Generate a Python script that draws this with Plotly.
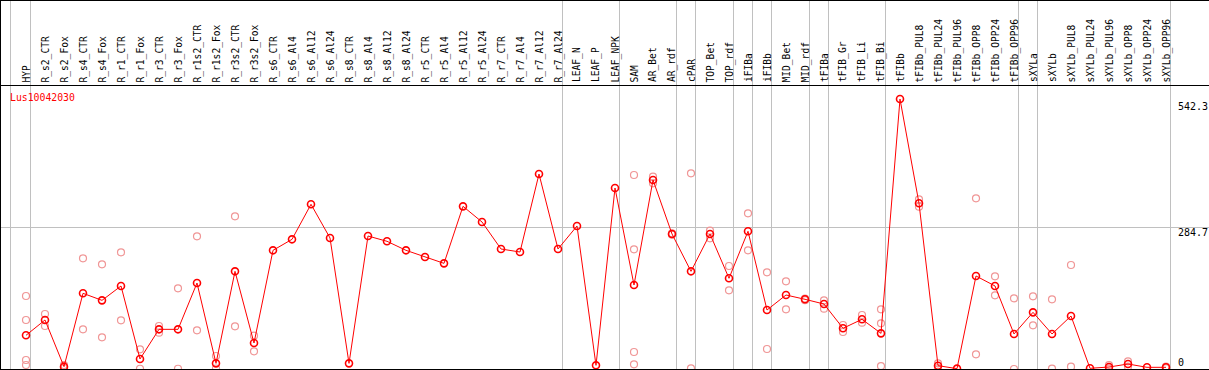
import plotly.graph_objects as go
import math

categories = ["HYP", "R_s2_CTR", "R_s2_Fox", "R_s4_CTR", "R_s4_Fox", "R_r1_CTR", "R_r1_Fox",
              "R_r3_CTR", "R_r3_Fox", "R_r1s2_CTR", "R_r1s2_Fox", "R_r3s2_CTR", "R_r3s2_Fox",
              "R_s6_CTR", "R_s6_Al4", "R_s6_Al12", "R_s6_Al24", "R_s8_CTR", "R_s8_Al4", "R_s8_Al12",
              "R_s8_Al24", "R_r5_CTR", "R_r5_Al4", "R_r5_Al12", "R_r5_Al24", "R_r7_CTR", "R_r7_Al4",
              "R_r7_Al12", "R_r7_Al24", "LEAF_N", "LEAF_P", "LEAF_NPK", "SAM", "AR_Bet", "AR_rdf",
              "cPAR", "TOP_Bet", "TOP_rdf", "iFIBa", "iFIBb", "MID_Bet", "MID_rdf", "tFIBa",
              "tFIB_Gr", "tFIB_Li", "tFIB_Bi", "tFIBb", "tFIBb_PUL8", "tFIBb_PUL24", "tFIBb_PUL96",
              "tFIBb_OPP8", "tFIBb_OPP24", "tFIBb_OPP96", "sXYLa", "sXYLb", "sXYLb_PUL8",
              "sXYLb_PUL24", "sXYLb_PUL96", "sXYLb_OPP8", "sXYLb_OPP24", "sXYLb_OPP96"]

mean_values = [68, 99, 4.7, 152.8, 138.6, 167.6, 20.2, 80.1, 80.1, 173.6, 11.4, 197.2, 52.5,
               239.6, 261.8, 332.5, 264.5, 11.4, 268.5, 257.8, 239.6, 226.1, 213.3, 328.4, 296.8,
               242.3, 236.2, 393.7, 242.3, 288.7, 7.4, 365.4, 169.6, 381.6, 272.6, 197.2, 272.6,
               183.1, 278, 119.1, 149.4, 140.7, 131.2, 82.2, 100.3, 72, 545, 334.5, 6.7, 0.7,
               187.8, 167.6, 70.7, 114.4, 70.7, 107, 1.4, 4, 10.1, 3.4, 3.4]

rep_categories = ["HYP", "HYP", "HYP", "HYP", "R_s2_CTR", "R_s2_CTR", "R_s2_Fox", "R_s2_Fox",
                  "R_s4_CTR", "R_s4_CTR", "R_s4_Fox", "R_s4_Fox", "R_r1_CTR", "R_r1_CTR",
                  "R_r1_Fox", "R_r1_Fox", "R_r3_CTR", "R_r3_CTR", "R_r3_Fox", "R_r3_Fox",
                  "R_r1s2_CTR", "R_r1s2_CTR", "R_r1s2_Fox", "R_r1s2_Fox", "R_r3s2_CTR", "R_r3s2_CTR",
                  "R_r3s2_Fox", "R_r3s2_Fox", "SAM", "SAM", "SAM", "SAM", "AR_Bet", "AR_Bet",
                  "AR_rdf", "AR_rdf", "cPAR", "cPAR", "TOP_Bet", "TOP_Bet", "TOP_rdf", "TOP_rdf",
                  "iFIBa", "iFIBa", "iFIBb", "iFIBb", "MID_Bet", "MID_Bet", "MID_rdf", "MID_rdf",
                  "tFIBa", "tFIBa", "tFIB_Gr", "tFIB_Gr", "tFIB_Li", "tFIB_Li", "tFIB_Bi", "tFIB_Bi",
                  "tFIB_Bi", "tFIBb_PUL8", "tFIBb_PUL8", "tFIBb_PUL24", "tFIBb_PUL24",
                  "tFIBb_OPP8", "tFIBb_OPP8", "tFIBb_OPP24", "tFIBb_OPP24", "tFIBb_OPP96",
                  "tFIBb_OPP96", "sXYLa", "sXYLa", "sXYLb", "sXYLb", "sXYLb_PUL8", "sXYLb_PUL8",
                  "sXYLb_PUL96", "sXYLb_PUL96", "sXYLb_OPP8", "sXYLb_OPP8", "sXYLb_OPP96",
                  "sXYLb_OPP96"]
rep_values = [147.4, 98.9, 18.2, 8.1, 111, 86.8, 8, 1.5,
              223.5, 80.1, 211.3, 63.9, 235.6, 98.3,
              39.7, 0.5, 86.8, 73.3, 162.9, 0.5,
              267.9, 78.1, 26.2, 1, 308.3, 86.2,
              67.3, 35.7, 391.7, 241.6, 34.3, 9.4, 388.3, 374.9,
              274, 271, 395, 1.3, 279.3, 263.8, 208, 158.9,
              314.3, 239.6, 195.2, 40.4, 177, 120.5, 142, 139,
              138.6, 121.8, 88.8, 74.7, 109, 93.5, 120.5, 92.2,
              6, 342.6, 327.7, 11.4, 1.6,
              344.6, 29.6, 187.1, 148.7, 142.7,
              0, 146.7, 88.2, 140.7, 0.7, 210, 4.7,
              8, 0.7, 15.5, 4.7, 5,
              1.5]

y_tick_values = [542.3, 284.7, 0]
y_tick_labels = ["542.3", "284.7", "0"]
group_ends = ["HYP", "R_r7_Al24", "LEAF_NPK", "AR_rdf", "cPAR", "TOP_rdf", "iFIBa", "iFIBb",
              "MID_rdf", "tFIBa", "tFIB_Bi", "tFIBb_OPP96", "sXYLa", "sXYLb_OPP96"]
gene_name = "Lus10042030"

W, H = 1209, 370
X0, DX = 26.0, 19.0          # pixel of first category, pixel step
Y0, SLOPE = 369.0, 0.4953    # pixel of value 0, pixels per unit

idx = {c: i for i, c in enumerate(categories)}
xr = [(0 - X0) / DX, (W - X0) / DX]
yr = [(Y0 - H) / SLOPE, Y0 / SLOPE]

fig = go.Figure()
fig.add_trace(go.Scatter(
    x=[idx[c] for c in rep_categories], y=rep_values, mode="markers",
    marker=dict(symbol="circle-open", size=7, color="rgb(240,150,150)",
                line=dict(width=1.2, color="rgb(240,150,150)")),
    showlegend=False, hoverinfo="skip", cliponaxis=True))
fig.add_trace(go.Scatter(
    x=list(range(len(categories))), y=mean_values, mode="lines+markers",
    line=dict(color="#ff0000", width=1),
    marker=dict(symbol="circle-open", size=7, color="#ff0000",
                line=dict(width=1.6, color="#ff0000")),
    showlegend=False, cliponaxis=True))

def px_x(p):
    return p / W

def px_y(p):
    return 1 - p / H

shapes = []
grey = "#c0c0c0"
vx = [10.5] + [math.floor(X0 + DX * (idx[c] + 0.25)) + 0.5 for c in group_ends]
for p in vx:
    shapes.append(dict(type="line", xref="paper", yref="paper", x0=px_x(p), x1=px_x(p),
                       y0=0, y1=1, line=dict(color=grey, width=1), layer="below"))
gy = math.floor(Y0 - SLOPE * y_tick_values[1]) + 0.5
shapes.append(dict(type="line", xref="paper", yref="paper", x0=0, x1=1,
                   y0=px_y(gy), y1=px_y(gy), line=dict(color=grey, width=1), layer="below"))
for p in [0.5, 85.5, 369.5]:
    shapes.append(dict(type="line", xref="paper", yref="paper", x0=0, x1=1,
                       y0=px_y(p), y1=px_y(p), line=dict(color="black", width=1)))
shapes.append(dict(type="line", xref="paper", yref="paper", x0=px_x(0.5), x1=px_x(0.5),
                   y0=0, y1=1, line=dict(color="black", width=1)))

annotations = []
mono = "DejaVu Sans Mono"
for i, c in enumerate(categories):
    annotations.append(dict(x=i, xref="x", y=px_y(83.5), yref="paper", text=c,
                            textangle=-90, showarrow=False, xanchor="center", yanchor="bottom",
                            borderpad=0, font=dict(family=mono, size=9.6, color="black")))
tick_py = [107, 232.7, 362]
for lab, py in zip(y_tick_labels, tick_py):
    annotations.append(dict(x=px_x(1177), xref="paper", y=px_y(py), yref="paper", text=lab,
                            showarrow=False, xanchor="left", yanchor="middle", borderpad=0,
                            font=dict(family=mono, size=10, color="black")))
annotations.append(dict(x=px_x(9), xref="paper", y=px_y(97.3), yref="paper", text=gene_name,
                        showarrow=False, xanchor="left", yanchor="middle", borderpad=0,
                        font=dict(family=mono, size=9.8, color="#ff0000")))

fig.update_layout(
    width=W, height=H, margin=dict(l=0, r=0, t=0, b=0),
    paper_bgcolor="white", plot_bgcolor="white",
    xaxis=dict(range=xr, visible=False, fixedrange=True),
    yaxis=dict(range=yr, visible=False, fixedrange=True),
    shapes=shapes, annotations=annotations, showlegend=False,
)
fig.write_html("out.html", config={"displayModeBar": False},
               post_script="document.body.style.margin='0';document.body.style.overflow='hidden';")
